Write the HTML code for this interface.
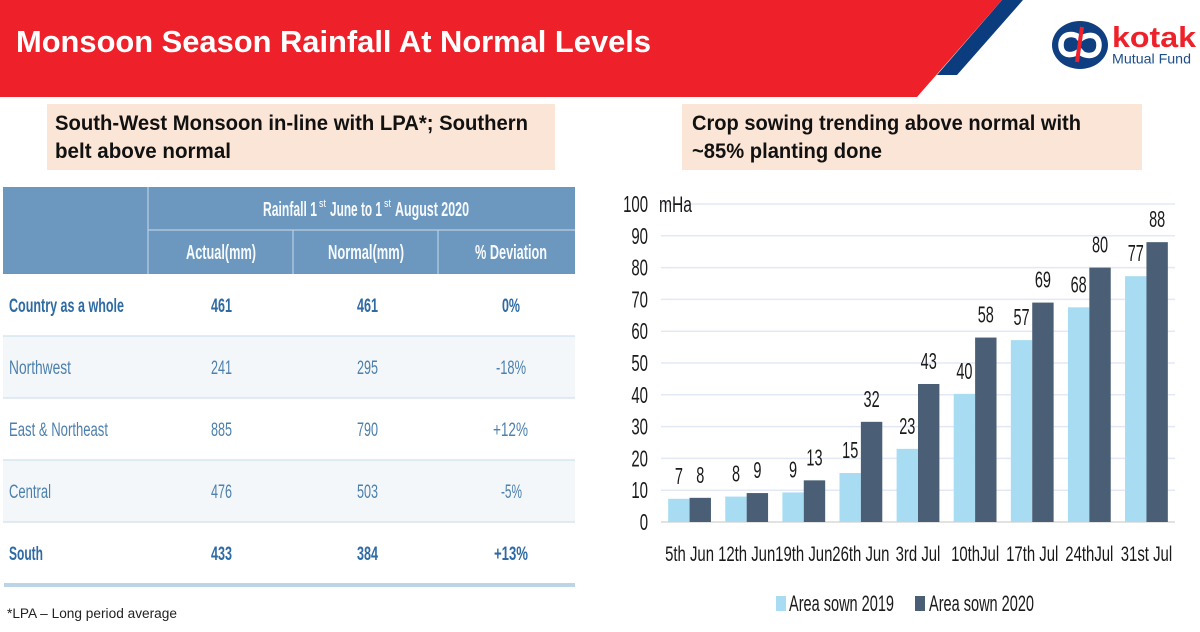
<!DOCTYPE html>
<html lang="en">
<head>
<meta charset="utf-8">
<title>Monsoon Season Rainfall At Normal Levels</title>
<style>
html,body{margin:0;padding:0;background:#fff;width:1200px;height:632px;overflow:hidden}
svg{display:block}
text{font-family:"Liberation Sans",sans-serif}
.h{fill:#fff;font-size:20px;font-weight:bold;fill-opacity:.95}
.b{fill:#2f6ba3;font-size:19px;font-weight:bold}
.r{fill:#4d80ad;font-size:19px}
.sup{fill:#fff;font-size:11px}
.t{fill:#111;font-size:21.500px;font-weight:bold}
.c{fill:#1a1a1a;font-size:22px}
</style>
</head>
<body>
<svg id="page" width="1200" height="632" viewBox="0 0 1200 632" xmlns="http://www.w3.org/2000/svg">
  <g>
    <polygon points="1002,0 1023,0 957,75 937,75" fill="#0b3c7d"/>
    <polygon points="0,0 1002,0 917,97 0,97" fill="#ee2029"/>
    <text x="16" y="52" fill="#fff" font-size="31" font-weight="bold" textLength="635" lengthAdjust="spacingAndGlyphs">Monsoon Season Rainfall At Normal Levels</text>
  </g>
  <g>
    <ellipse cx="1080" cy="45" rx="28" ry="24" fill="#0f3f80"/>
    <path d="M1080,38 C1075,33 1061,32 1061,45 C1061,57 1074,57 1082,49" fill="none" stroke="#fff" stroke-width="5.500"/>
    <path d="M1080,52 C1085,57 1099,58 1099,45 C1099,33 1086,33 1078,41" fill="none" stroke="#fff" stroke-width="5.500"/>
    <line x1="1082" y1="27" x2="1077" y2="62" stroke="#ee2029" stroke-width="4"/>
    <text x="1112" y="47" fill="#ee2029" font-size="29" font-weight="bold" textLength="84" lengthAdjust="spacingAndGlyphs">kotak</text>
    <text x="1112" y="63.500" fill="#1c4f8a" font-size="14" textLength="79" lengthAdjust="spacingAndGlyphs">Mutual Fund</text>
  </g>

  <g>
    <rect x="47" y="104" width="508" height="66" fill="#fbe5d6"/>
    <text class="t" x="55" y="130" textLength="473" lengthAdjust="spacingAndGlyphs">South-West Monsoon in-line with LPA*; Southern</text>
    <text class="t" x="55" y="158" textLength="176" lengthAdjust="spacingAndGlyphs">belt above normal</text>
  </g>
  <g>
    <rect x="682" y="104" width="460" height="66" fill="#fbe5d6"/>
    <text class="t" x="692" y="130" textLength="389" lengthAdjust="spacingAndGlyphs">Crop sowing trending above normal with</text>
    <text class="t" x="692" y="158" textLength="190" lengthAdjust="spacingAndGlyphs">~85% planting done</text>
  </g>

  <g>
    <rect x="3" y="187" width="572" height="87" fill="#6c98c0"/>
    <rect x="3" y="336" width="572" height="62" fill="#f3f7fa"/>
    <rect x="3" y="460" width="572" height="62" fill="#f3f7fa"/>
    <g stroke="#b9cfe3" stroke-width="1.200">
      <line x1="148" y1="187" x2="148" y2="274"/>
      <line x1="148" y1="230" x2="575" y2="230"/>
      <line x1="293" y1="230" x2="293" y2="274"/>
      <line x1="438" y1="230" x2="438" y2="274"/>
    </g>
    <g stroke="#d8e5f0" stroke-width="1.500">
      <line x1="3" y1="336" x2="575" y2="336"/>
      <line x1="3" y1="398" x2="575" y2="398"/>
      <line x1="3" y1="460" x2="575" y2="460"/>
      <line x1="3" y1="522" x2="575" y2="522"/>
    </g>
    <rect x="4" y="583" width="571" height="4" fill="#bdd3e6"/>

    <text class="h" x="263" y="216" textLength="54" lengthAdjust="spacingAndGlyphs">Rainfall 1</text>
    <text class="sup" x="319" y="207" textLength="7" lengthAdjust="spacingAndGlyphs">st</text>
    <text class="h" x="330" y="216" textLength="52" lengthAdjust="spacingAndGlyphs">June to 1</text>
    <text class="sup" x="384" y="207" textLength="7" lengthAdjust="spacingAndGlyphs">st</text>
    <text class="h" x="395" y="216" textLength="74" lengthAdjust="spacingAndGlyphs">August 2020</text>
    <text class="h" x="186" y="259" textLength="70" lengthAdjust="spacingAndGlyphs">Actual(mm)</text>
    <text class="h" x="328" y="259" textLength="76" lengthAdjust="spacingAndGlyphs">Normal(mm)</text>
    <text class="h" x="475" y="259" textLength="72" lengthAdjust="spacingAndGlyphs">% Deviation</text>

    <text class="b" x="9" y="312" textLength="115" lengthAdjust="spacingAndGlyphs">Country as a whole</text>
    <text class="b" x="211" y="312" textLength="21" lengthAdjust="spacingAndGlyphs">461</text>
    <text class="b" x="357" y="312" textLength="21" lengthAdjust="spacingAndGlyphs">461</text>
    <text class="b" x="502" y="312" textLength="18" lengthAdjust="spacingAndGlyphs">0%</text>

    <text class="r" x="9" y="374" textLength="62" lengthAdjust="spacingAndGlyphs">Northwest</text>
    <text class="r" x="211" y="374" textLength="21" lengthAdjust="spacingAndGlyphs">241</text>
    <text class="r" x="357" y="374" textLength="21" lengthAdjust="spacingAndGlyphs">295</text>
    <text class="r" x="496" y="374" textLength="30" lengthAdjust="spacingAndGlyphs">-18%</text>

    <text class="r" x="9" y="436" textLength="99" lengthAdjust="spacingAndGlyphs">East &amp; Northeast</text>
    <text class="r" x="211" y="436" textLength="21" lengthAdjust="spacingAndGlyphs">885</text>
    <text class="r" x="357" y="436" textLength="21" lengthAdjust="spacingAndGlyphs">790</text>
    <text class="r" x="493" y="436" textLength="35" lengthAdjust="spacingAndGlyphs">+12%</text>

    <text class="r" x="9" y="498" textLength="42" lengthAdjust="spacingAndGlyphs">Central</text>
    <text class="r" x="211" y="498" textLength="21" lengthAdjust="spacingAndGlyphs">476</text>
    <text class="r" x="357" y="498" textLength="21" lengthAdjust="spacingAndGlyphs">503</text>
    <text class="r" x="501" y="498" textLength="21" lengthAdjust="spacingAndGlyphs">-5%</text>

    <text class="b" x="9" y="560" textLength="34" lengthAdjust="spacingAndGlyphs">South</text>
    <text class="b" x="211" y="560" textLength="21" lengthAdjust="spacingAndGlyphs">433</text>
    <text class="b" x="357" y="560" textLength="21" lengthAdjust="spacingAndGlyphs">384</text>
    <text class="b" x="494" y="560" textLength="34" lengthAdjust="spacingAndGlyphs">+13%</text>
  </g>
  <text x="7" y="618" fill="#222" font-size="13.500" textLength="170" lengthAdjust="spacingAndGlyphs">*LPA – Long period average</text>

  <g id="chart"></g>
  <text x="659" y="212" fill="#1a1a1a" font-size="22" textLength="33" lengthAdjust="spacingAndGlyphs">mHa</text>
  <g>
    <g>
      <rect x="776" y="596" width="10" height="15" fill="#a8dcf2"/>
      <text class="c" x="789" y="611" textLength="105" lengthAdjust="spacingAndGlyphs">Area sown 2019</text>
    </g>
    <g>
      <rect x="915" y="596" width="10" height="15" fill="#4a5f75"/>
      <text class="c" x="929" y="611" textLength="105" lengthAdjust="spacingAndGlyphs">Area sown 2020</text>
    </g>
  </g>
</svg>
<script>
var categories = ["5th Jun","12th Jun","19th Jun","26th Jun","3rd Jul","10thJul","17th Jul","24thJul","31st Jul"];
var sown2019 = [7.3,8.0,9.3,15.4,23,40.3,57.2,67.5,77.3];
var sown2020 = [7.6,9.1,13.1,31.5,43.4,58,69,80,88];
var labels2019 = ["7","8","9","15","23","40","57","68","77"];
var labels2020 = ["8","9","13","32","43","58","69","80","88"];
var yTicks = [0,10,20,30,40,50,60,70,80,90,100];

var chart = document.getElementById('chart');
var NS = 'http://www.w3.org/2000/svg';
var plotLeft = 661, plotRight = 1175, plotBottom = 522, plotTop = 204;
var yMax = 100;
function yScale(v){ return plotBottom - (v / yMax) * (plotBottom - plotTop); }
function band(){ return (plotRight - plotLeft) / categories.length; }
function xCenter(i){ return plotLeft + band() * (i + 0.5); }
var barW = 21.4;

function mk(tag, attrs){
  var e = document.createElementNS(NS, tag);
  for (var k in attrs) e.setAttribute(k, attrs[k]);
  chart.appendChild(e);
  return e;
}
function condensed(str, x, y, size, sx, anchor){
  var t = mk('text', {transform:'translate(' + x + ',' + y + ') scale(' + sx + ',1)', 'text-anchor':anchor, 'font-size':size, fill:'#1a1a1a'});
  t.textContent = str;
  return t;
}

yTicks.forEach(function(v){
  var y = yScale(v);
  var g = mk('line', {x1:plotLeft, x2:plotRight, y1:y, y2:y, stroke: v === 0 ? '#d9d9d9' : '#e3e8f7', 'stroke-width':1.5});
  
  
  var t = condensed(String(v), 648, y + 8, 23, 0.65, 'end');
  
  
});

categories.forEach(function(c, i){
  var cx = xCenter(i);
  var y1 = yScale(sown2019[i]);
  var y2 = yScale(sown2020[i]);
  var a = mk('rect', {x:cx - barW, y:y1, width:barW, height:plotBottom - y1, fill:'#a8dcf2'});
  
  
  var b = mk('rect', {x:cx, y:y2, width:barW, height:plotBottom - y2, fill:'#4a5f75'});
  
  
  var la = condensed(labels2019[i], cx - barW / 2, y1 - 15, 23, 0.63, 'middle');
  
  
  var lb = condensed(labels2020[i], cx + barW / 2, y2 - 15, 23, 0.63, 'middle');
  
  
  var ct = condensed(c, cx, 561, 21, 0.71, 'middle');
  
  
});
</script>
</body>
</html>
